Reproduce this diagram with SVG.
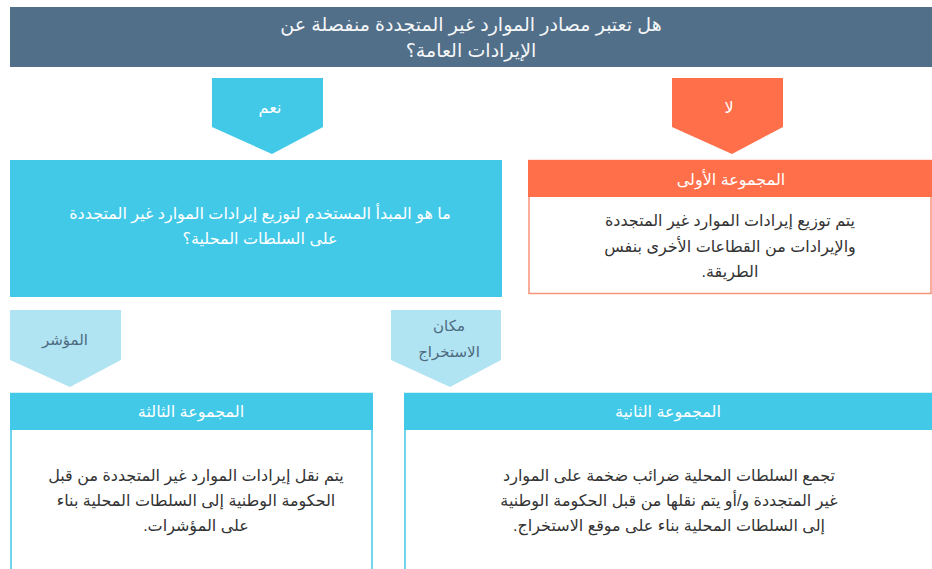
<svg xmlns="http://www.w3.org/2000/svg" width="932" height="569" viewBox="0 0 932 569">
<style>
text{font-family:"Liberation Sans","DejaVu Sans",sans-serif;text-anchor:middle;direction:rtl;unicode-bidi:embed}
.title{fill:#f4f6f8;font-size:19px}
.wt{fill:#ffffff;font-size:16px}
.hd{fill:#ffffff;font-size:16px}
.body{fill:#333333;font-size:16px}
.lab{fill:#4d6b80;font-size:15px}
.cyan{fill:#42c9e8}
.orange{fill:#ff6f4a}
.light{fill:#b1e4f3}
</style>
<rect width="932" height="569" fill="#ffffff"/>
<g id="question">
<rect x="10" y="7" width="922" height="60" fill="#516f89"/>
<text class="title" x="471" y="31">هل تعتبر مصادر الموارد غير المتجددة منفصلة عن</text>
<text class="title" x="471" y="57">الإيرادات العامة؟</text>
</g>
<g id="connectors">
<polygon class="cyan" points="212,78 323,78 323,127 272,154 212,127"/>
<text class="wt" x="270" y="113">نعم</text>
<polygon class="orange" points="672,78 783,78 783,127 732,154 672,127"/>
<text class="wt" x="729" y="113">لا</text>
<polygon class="light" points="10,310 121,310 121,360 70,387 10,360"/>
<text class="lab" x="65" y="345">المؤشر</text>
<polygon class="light" points="391,310 501,310 501,360 450,387 391,360"/>
<text class="lab" x="449" y="331">مكان</text>
<text class="lab" x="449" y="357">الاستخراج</text>
</g>
<g id="principle">
<rect class="cyan" x="10" y="160" width="492" height="137"/>
<text class="wt" x="260" y="219">ما هو المبدأ المستخدم لتوزيع إيرادات الموارد غير المتجددة</text>
<text class="wt" x="260" y="244">على السلطات المحلية؟</text>
</g>
<g id="group1">
<rect x="529" y="160.5" width="402" height="133" fill="#ffffff" stroke="#f79479" stroke-width="1.5"/>
<rect class="orange" x="528" y="160" width="404" height="37"/>
<text class="hd" x="731" y="185">المجموعة الأولى</text>
<text class="body" x="730" y="226">يتم توزيع إيرادات الموارد غير المتجددة</text>
<text class="body" x="730" y="252">والإيرادات من القطاعات الأخرى بنفس</text>
<text class="body" x="730" y="277">الطريقة.</text>
</g>
<g id="group3">
<rect x="11" y="393.5" width="361" height="180" fill="#ffffff" stroke="#42c9e8" stroke-width="1.5"/>
<rect class="cyan" x="10" y="393" width="363" height="37"/>
<text class="hd" x="191" y="417">المجموعة الثالثة</text>
<text class="body" x="196" y="481">يتم نقل إيرادات الموارد غير المتجددة من قبل</text>
<text class="body" x="196" y="506">الحكومة الوطنية إلى السلطات المحلية بناء</text>
<text class="body" x="196" y="531">على المؤشرات.</text>
</g>
<g id="group2">
<rect x="405" y="393.5" width="530" height="180" fill="#ffffff" stroke="#42c9e8" stroke-width="1.5"/>
<rect class="cyan" x="404" y="393" width="528" height="37"/>
<text class="hd" x="668" y="417">المجموعة الثانية</text>
<text class="body" x="669" y="481">تجمع السلطات المحلية ضرائب ضخمة على الموارد</text>
<text class="body" x="669" y="506">غير المتجددة و/أو يتم نقلها من قبل الحكومة الوطنية</text>
<text class="body" x="669" y="531">إلى السلطات المحلية بناء على موقع الاستخراج.</text>
</g>
</svg>
